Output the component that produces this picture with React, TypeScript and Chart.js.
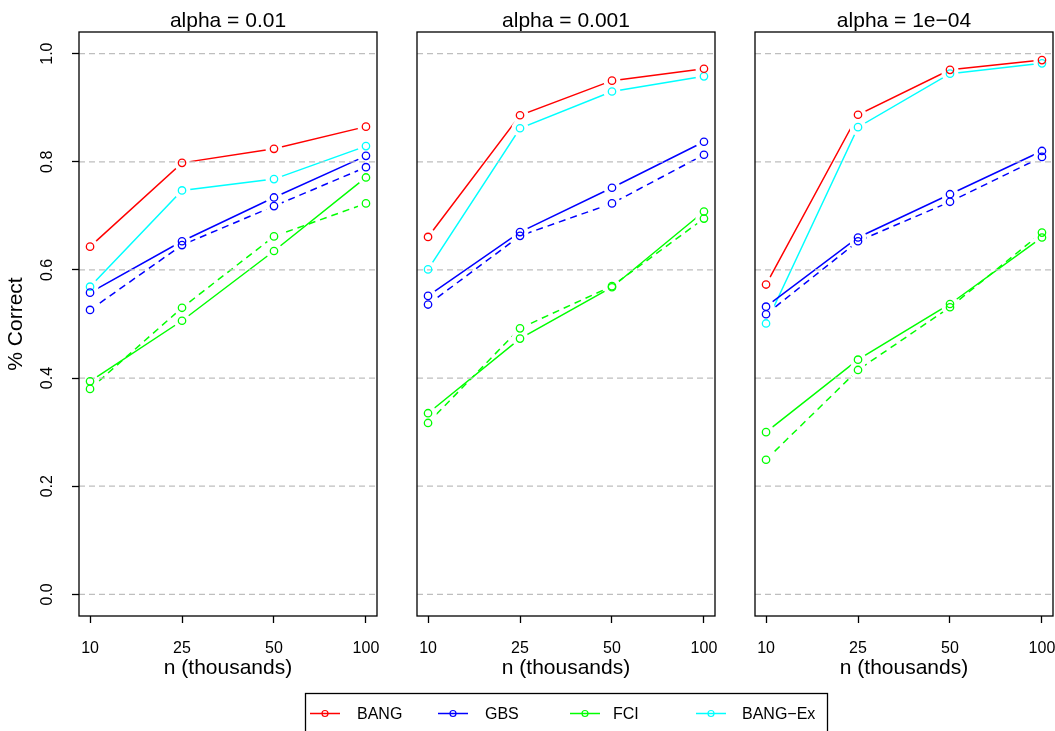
import React, { useEffect, useRef } from "react";
import { Chart, registerables } from "chart.js";

Chart.register(...registerables);

// ---------- data ----------
const nLabels = ["10", "25", "50", "100"];
const yTickValues = [0, 0.2, 0.4, 0.6, 0.8, 1.0];
const panelTitles = ["alpha = 0.01", "alpha = 0.001", "alpha = 1e\u221204"];
const legendNames = ["BANG", "GBS", "FCI", "BANG\u2212Ex"];

// alpha = 0.01
const bang1 = [0.643, 0.798, 0.824, 0.865];
const gbsSolid1 = [0.558, 0.653, 0.734, 0.811];
const gbsDashed1 = [0.526, 0.646, 0.718, 0.79];
const fciSolid1 = [0.394, 0.506, 0.635, 0.771];
const fciDashed1 = [0.38, 0.53, 0.662, 0.723];
const bangEx1 = [0.569, 0.747, 0.768, 0.829];

// alpha = 0.001
const bang2 = [0.661, 0.886, 0.95, 0.972];
const gbsSolid2 = [0.552, 0.67, 0.752, 0.837];
const gbsDashed2 = [0.536, 0.663, 0.723, 0.813];
const fciSolid2 = [0.335, 0.473, 0.568, 0.708];
const fciDashed2 = [0.317, 0.492, 0.57, 0.695];
const bangEx2 = [0.601, 0.862, 0.93, 0.958];

// alpha = 1e-04
const bang3 = [0.573, 0.887, 0.97, 0.988];
const gbsSolid3 = [0.532, 0.66, 0.74, 0.82];
const gbsDashed3 = [0.518, 0.653, 0.726, 0.809];
const fciSolid3 = [0.3, 0.434, 0.537, 0.66];
const fciDashed3 = [0.249, 0.415, 0.531, 0.669];
const bangEx3 = [0.501, 0.864, 0.963, 0.982];

const panelSeries = [
  [bang1, gbsSolid1, gbsDashed1, fciSolid1, fciDashed1, bangEx1],
  [bang2, gbsSolid2, gbsDashed2, fciSolid2, fciDashed2, bangEx2],
  [bang3, gbsSolid3, gbsDashed3, fciSolid3, fciDashed3, bangEx3],
];

// ---------- styles ----------
const RED = "#FF0000";
const BLUE = "#0000FF";
const GREEN = "#00FF00";
const CYAN = "#00FFFF";
const seriesStyles = [
  { color: RED, dash: [] as number[] },
  { color: BLUE, dash: [] as number[] },
  { color: BLUE, dash: [7, 5] },
  { color: GREEN, dash: [] as number[] },
  { color: GREEN, dash: [7, 5] },
  { color: CYAN, dash: [] as number[] },
];
const legendColors = [RED, BLUE, GREEN, CYAN];

const FONT = '"Liberation Sans", Arial, Helvetica, sans-serif';
const W = 1055; // visible page width
const CW = 1100; // canvas width (wider so the last tick label can overflow and be clipped)
const H = 731;
const boxLefts = [79, 417, 755];
const boxWidth = 298;
const boxTop = 32;
const xAxisHeight = 115;
const yAxisWidth = 79;

function drawGrid(chart: any) {
  const { ctx, chartArea } = chart;
  const ys = chart.scales.y;
  ctx.save();
  ctx.strokeStyle = "#BEBEBE";
  ctx.lineWidth = 1.3;
  ctx.setLineDash([6, 4]);
  yTickValues.forEach((v) => {
    const y = ys.getPixelForValue(v);
    ctx.beginPath();
    ctx.moveTo(chartArea.left, y);
    ctx.lineTo(chartArea.right, y);
    ctx.stroke();
  });
  ctx.restore();
}

function makePlugin(p: number) {
  return {
    id: "decor" + p,
    beforeDatasetsDraw(chart: any) {
      chart.$gridDone = false;
    },
    beforeDatasetDraw(chart: any, args: any) {
      const ds: any = chart.data.datasets[args.index];
      if (ds.kind === "circle" && !chart.$gridDone) {
        drawGrid(chart);
        chart.$gridDone = true;
      }
    },
    afterDraw(chart: any) {
      const { ctx, chartArea } = chart;
      ctx.save();
      // plot box
      ctx.strokeStyle = "#000";
      ctx.lineWidth = 1.3;
      ctx.setLineDash([]);
      ctx.strokeRect(
        chartArea.left,
        chartArea.top,
        chartArea.right - chartArea.left,
        chartArea.bottom - chartArea.top
      );
      // panel title
      ctx.fillStyle = "#000";
      ctx.font = `21px ${FONT}`;
      ctx.textAlign = "center";
      ctx.textBaseline = "alphabetic";
      ctx.fillText(panelTitles[p], (chartArea.left + chartArea.right) / 2, 26.5);

      if (p === 0) {
        // legend
        ctx.lineWidth = 1.3;
        ctx.strokeRect(305.5, 693.5, 522, 60);
        const markerX = [325, 453, 585, 711];
        const textX = [357, 485, 613, 742];
        const ly = 713.5;
        ctx.font = `16px ${FONT}`;
        ctx.textAlign = "left";
        ctx.textBaseline = "middle";
        legendNames.forEach((name, i) => {
          ctx.strokeStyle = legendColors[i];
          ctx.lineWidth = 1.5;
          ctx.beginPath();
          ctx.moveTo(markerX[i] - 15, ly);
          ctx.lineTo(markerX[i] + 15, ly);
          ctx.stroke();
          ctx.lineWidth = 1.2;
          ctx.beginPath();
          ctx.arc(markerX[i], ly, 3, 0, Math.PI * 2);
          ctx.stroke();
          ctx.fillStyle = "#000";
          ctx.fillText(name, textX[i], ly + 1);
        });
      }
      ctx.restore();
    },
  };
}

function makeConfig(p: number): any {
  const datasets: any[] = [];
  panelSeries[p].forEach((vals, s) => {
    const st = seriesStyles[s];
    const data = vals.map((v, i) => ({ x: i + 1, y: v }));
    datasets.push({
      kind: "line",
      data,
      borderColor: st.color,
      borderWidth: 1.5,
      borderDash: st.dash,
      pointRadius: 0,
      pointHoverRadius: 0,
      fill: false,
      tension: 0,
      order: 3,
    });
    datasets.push({
      kind: "halo",
      data,
      showLine: false,
      pointRadius: 8.5,
      pointHoverRadius: 8.5,
      pointBackgroundColor: "#FFFFFF",
      pointBorderColor: "#FFFFFF",
      pointBorderWidth: 0,
      order: 2,
    });
    datasets.push({
      kind: "circle",
      data,
      showLine: false,
      pointRadius: 3.7,
      pointHoverRadius: 3.7,
      pointBackgroundColor: "rgba(0,0,0,0)",
      pointBorderColor: st.color,
      pointBorderWidth: 1.3,
      order: 1,
    });
  });

  const padding =
    p === 0
      ? { left: 0, right: CW - boxLefts[0] - boxWidth, top: boxTop, bottom: 0 }
      : { left: boxLefts[p], right: CW - boxLefts[p] - boxWidth, top: boxTop, bottom: 0 };

  return {
    type: "line",
    data: { datasets },
    options: {
      responsive: false,
      animation: false,
      devicePixelRatio: 1,
      events: [],
      layout: { padding },
      plugins: {
        legend: { display: false },
        tooltip: { enabled: false },
        title: { display: false },
      },
      scales: {
        x: {
          type: "linear",
          min: 0.88,
          max: 4.12,
          afterBuildTicks: (s: any) => {
            s.ticks = nLabels.map((_, i) => ({ value: i + 1 }));
          },
          afterFit: (s: any) => {
            s.height = xAxisHeight;
            s.paddingLeft = 0;
            s.paddingRight = 0;
          },
          ticks: {
            callback: (v: any) => nLabels[Math.round(Number(v)) - 1] ?? "",
            color: "#000",
            font: { family: FONT, size: 16 },
            padding: 16,
            maxRotation: 0,
            minRotation: 0,
            autoSkip: false,
          },
          grid: {
            drawOnChartArea: false,
            drawTicks: true,
            tickLength: 7,
            color: "#000",
            tickWidth: 1.3,
          },
          border: { display: false },
          title: {
            display: true,
            text: "n (thousands)",
            color: "#000",
            font: { family: FONT, size: 21 },
            padding: { top: 0, bottom: 50 },
          },
        },
        y: {
          type: "linear",
          min: -0.04,
          max: 1.04,
          display: p === 0,
          afterBuildTicks: (s: any) => {
            s.ticks = yTickValues.map((v) => ({ value: v }));
          },
          afterFit: (s: any) => {
            s.width = p === 0 ? yAxisWidth : 0;
            s.paddingTop = 0;
            s.paddingBottom = 0;
          },
          ticks: {
            callback: (v: any) => Number(v).toFixed(1),
            color: "#000",
            font: { family: FONT, size: 16 },
            minRotation: 90,
            maxRotation: 90,
            crossAlign: "center",
            padding: 13,
            autoSkip: false,
          },
          grid: {
            drawOnChartArea: false,
            drawTicks: true,
            tickLength: 7,
            color: "#000",
            tickWidth: 1.3,
          },
          border: { display: false },
          title: {
            display: true,
            text: "% Correct",
            color: "#000",
            font: { family: FONT, size: 21 },
            padding: { top: 4, bottom: 0 },
          },
        },
      },
    },
    plugins: [makePlugin(p)],
  };
}

function Panel({ index }: { index: number }) {
  const ref = useRef<HTMLCanvasElement | null>(null);
  useEffect(() => {
    if (!ref.current) return;
    const chart = new Chart(ref.current, makeConfig(index));
    return () => chart.destroy();
  }, [index]);
  return (
    <canvas
      ref={ref}
      width={CW}
      height={H}
      style={{ position: "absolute", left: 0, top: 0, width: CW, height: H }}
    />
  );
}

export default function App() {
  return (
    <div
      style={{
        position: "absolute",
        left: 0,
        top: 0,
        width: W,
        height: H,
        background: "#FFFFFF",
        overflow: "hidden",
      }}
    >
      {[0, 1, 2].map((p) => (
        <Panel key={p} index={p} />
      ))}
    </div>
  );
}
